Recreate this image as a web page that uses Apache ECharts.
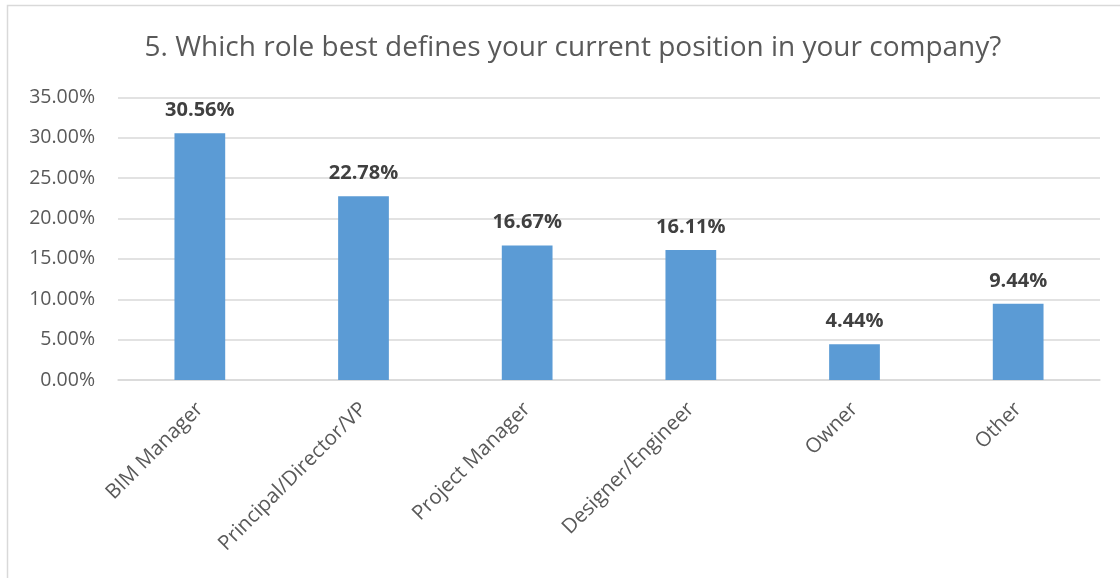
<!DOCTYPE html>
<html>
<head>
<meta charset="utf-8">
<script src="https://cdn.jsdelivr.net/npm/echarts@6/dist/echarts.min.js"></script>
<style>
  html, body { margin: 0; padding: 0; background: #ffffff; }
  #chart { width: 1120px; height: 578px; }
</style>
</head>
<body>
<div id="chart"></div>
<script>
// Survey question 5: share of respondents by role
const titleText = '5. Which role best defines your current position in your company?';
const roles = ['BIM Manager', 'Principal/Director/VP', 'Project Manager', 'Designer/Engineer', 'Owner', 'Other'];
const shares = [30.56, 22.78, 16.67, 16.11, 4.44, 9.44];

const FONT = '"Open Sans", "Noto Sans", sans-serif';
const TEXT_GREY = '#595959';
const GRID_GREY = '#d9d9d9';

const chart = echarts.init(document.getElementById('chart'), null, { renderer: 'canvas' });

chart.setOption({
  backgroundColor: '#ffffff',
  animation: false,
  textStyle: { fontFamily: FONT },
  title: {
    text: titleText,
    left: 568,
    top: 29,
    textAlign: 'center',
    textStyle: { fontFamily: FONT, fontSize: 28, fontWeight: 'normal', color: TEXT_GREY }
  },
  graphic: [{
    type: 'rect',
    shape: { x: 7.5, y: 5.5, width: 1115, height: 600 },
    style: { fill: 'none', stroke: GRID_GREY, lineWidth: 1.5 },
    silent: true,
    z: -1
  }],
  grid: { left: 118, right: 20, top: 97.5, bottom: 198, containLabel: false },
  xAxis: {
    type: 'category',
    data: roles,
    axisLine: { lineStyle: { color: GRID_GREY, width: 1.5 } },
    axisTick: { show: false },
    axisLabel: {
      interval: 0,
      rotate: 45,
      margin: 26,
      fontFamily: FONT,
      fontSize: 20.5,
      color: TEXT_GREY
    }
  },
  yAxis: {
    type: 'value',
    min: 0,
    max: 35,
    interval: 5,
    axisLine: { show: false },
    axisTick: { show: false },
    splitLine: { lineStyle: { color: GRID_GREY, width: 1.5 } },
    axisLabel: {
      margin: 23,
      fontFamily: FONT,
      fontSize: 19.5,
      color: TEXT_GREY,
      formatter: v => v.toFixed(2) + '%'
    }
  },
  series: [{
    type: 'bar',
    data: shares,
    barWidth: '31%',
    itemStyle: { color: '#5b9bd5' },
    label: {
      show: true,
      position: 'top',
      distance: 13,
      fontFamily: FONT,
      fontSize: 20,
      fontWeight: 'bold',
      color: '#404040',
      formatter: p => p.value.toFixed(2) + '%'
    }
  }]
});
</script>
</body>
</html>
